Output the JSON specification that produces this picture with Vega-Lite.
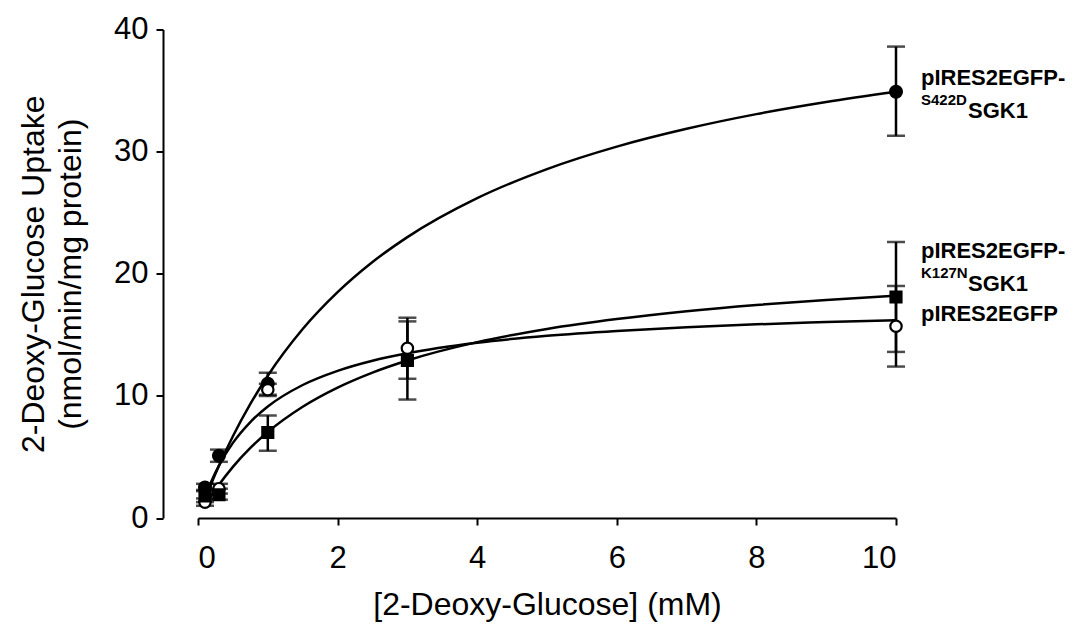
{
  "$schema": "https://vega.github.io/schema/vega-lite/v6.json",
  "width": 698,
  "height": 488.5,
  "autosize": "none",
  "padding": {"left": 198, "top": 29.5, "right": 181, "bottom": 118},
  "background": "white",
  "config": {
    "view": {"stroke": null},
    "font": "Liberation Sans",
    "axis": {
      "labelFont": "Liberation Sans",
      "titleFont": "Liberation Sans",
      "labelFontSize": 31,
      "titleFontSize": 32,
      "titleFontWeight": "normal",
      "labelColor": "black",
      "titleColor": "black",
      "domainColor": "black",
      "tickColor": "black",
      "domainWidth": 2,
      "tickWidth": 2,
      "tickSize": 7,
      "grid": false
    }
  },
  "datasets": {
    "points": [
      {"series": "S422D", "conc": 0.1, "uptake": 2.5, "lo": 2.2, "hi": 2.8},
      {"series": "S422D", "conc": 0.3, "uptake": 5.1, "lo": 4.6, "hi": 5.6},
      {"series": "S422D", "conc": 1, "uptake": 11.0, "lo": 10.1, "hi": 11.9},
      {"series": "S422D", "conc": 10, "uptake": 34.9, "lo": 31.3, "hi": 38.6},
      {"series": "Control", "conc": 0.1, "uptake": 1.3, "lo": 1.0, "hi": 1.6},
      {"series": "Control", "conc": 0.3, "uptake": 2.4, "lo": 2.0, "hi": 2.8},
      {"series": "Control", "conc": 1, "uptake": 10.5, "lo": 10.0, "hi": 11.0},
      {"series": "Control", "conc": 3, "uptake": 13.9, "lo": 11.4, "hi": 16.4},
      {"series": "Control", "conc": 10, "uptake": 15.7, "lo": 12.4, "hi": 19.0},
      {"series": "K127N", "conc": 0.1, "uptake": 1.8, "lo": 1.3, "hi": 2.3},
      {"series": "K127N", "conc": 0.3, "uptake": 1.9, "lo": 1.5, "hi": 2.4},
      {"series": "K127N", "conc": 1, "uptake": 7.0, "lo": 5.5, "hi": 8.4},
      {"series": "K127N", "conc": 3, "uptake": 12.9, "lo": 9.7, "hi": 16.1},
      {"series": "K127N", "conc": 10, "uptake": 18.1, "lo": 13.6, "hi": 22.6}
    ],
    "curves": [
      {"series": "S422D", "conc": 0.1, "fit": 1.52},
      {"series": "S422D", "conc": 0.2, "fit": 2.94},
      {"series": "S422D", "conc": 0.3, "fit": 4.27},
      {"series": "S422D", "conc": 0.5, "fit": 6.69},
      {"series": "S422D", "conc": 0.75, "fit": 9.34},
      {"series": "S422D", "conc": 1, "fit": 11.65},
      {"series": "S422D", "conc": 1.5, "fit": 15.47},
      {"series": "S422D", "conc": 2, "fit": 18.49},
      {"series": "S422D", "conc": 2.5, "fit": 20.96},
      {"series": "S422D", "conc": 3, "fit": 23.0},
      {"series": "S422D", "conc": 4, "fit": 26.19},
      {"series": "S422D", "conc": 5, "fit": 28.57},
      {"series": "S422D", "conc": 6, "fit": 30.41},
      {"series": "S422D", "conc": 7, "fit": 31.87},
      {"series": "S422D", "conc": 8, "fit": 33.07},
      {"series": "S422D", "conc": 9, "fit": 34.06},
      {"series": "S422D", "conc": 10, "fit": 34.9},
      {"series": "Control", "conc": 0.1, "fit": 1.7},
      {"series": "Control", "conc": 0.2, "fit": 3.11},
      {"series": "Control", "conc": 0.3, "fit": 4.29},
      {"series": "Control", "conc": 0.5, "fit": 6.15},
      {"series": "Control", "conc": 0.75, "fit": 7.86},
      {"series": "Control", "conc": 1, "fit": 9.13},
      {"series": "Control", "conc": 1.5, "fit": 10.89},
      {"series": "Control", "conc": 2, "fit": 12.05},
      {"series": "Control", "conc": 2.5, "fit": 12.88},
      {"series": "Control", "conc": 3, "fit": 13.49},
      {"series": "Control", "conc": 4, "fit": 14.35},
      {"series": "Control", "conc": 5, "fit": 14.92},
      {"series": "Control", "conc": 6, "fit": 15.32},
      {"series": "Control", "conc": 7, "fit": 15.62},
      {"series": "Control", "conc": 8, "fit": 15.86},
      {"series": "Control", "conc": 9, "fit": 16.04},
      {"series": "Control", "conc": 10, "fit": 16.2},
      {"series": "K127N", "conc": 0.1, "fit": 0.99},
      {"series": "K127N", "conc": 0.2, "fit": 1.89},
      {"series": "K127N", "conc": 0.3, "fit": 2.72},
      {"series": "K127N", "conc": 0.5, "fit": 4.19},
      {"series": "K127N", "conc": 0.75, "fit": 5.74},
      {"series": "K127N", "conc": 1, "fit": 7.04},
      {"series": "K127N", "conc": 1.5, "fit": 9.11},
      {"series": "K127N", "conc": 2, "fit": 10.68},
      {"series": "K127N", "conc": 2.5, "fit": 11.91},
      {"series": "K127N", "conc": 3, "fit": 12.9},
      {"series": "K127N", "conc": 4, "fit": 14.4},
      {"series": "K127N", "conc": 5, "fit": 15.48},
      {"series": "K127N", "conc": 6, "fit": 16.29},
      {"series": "K127N", "conc": 7, "fit": 16.93},
      {"series": "K127N", "conc": 8, "fit": 17.44},
      {"series": "K127N", "conc": 9, "fit": 17.85},
      {"series": "K127N", "conc": 10, "fit": 18.2}
    ],
    "labels": [
      {"part": "head", "text": "pIRES2EGFP-", "conc": 10, "pos": 35.46},
      {"part": "sup", "text": "S422D", "conc": 10, "pos": 33.82},
      {"part": "tail", "text": "SGK1", "conc": 10, "pos": 32.76},
      {"part": "head", "text": "pIRES2EGFP-", "conc": 10, "pos": 21.29},
      {"part": "sup", "text": "K127N", "conc": 10, "pos": 19.66},
      {"part": "tail", "text": "SGK1", "conc": 10, "pos": 18.59},
      {"part": "head", "text": "pIRES2EGFP", "conc": 10, "pos": 16.13}
    ]
  },
  "encoding": {
    "x": {
      "field": "conc",
      "type": "quantitative",
      "scale": {"domain": [0, 10], "nice": false, "zero": false},
      "axis": {
        "values": [0, 2, 4, 6, 8, 10],
        "title": "[2-Deoxy-Glucose] (mM)",
        "labelPadding": 18,
        "titlePadding": 16
      }
    }
  },
  "layer": [
    {
      "data": {"name": "curves"},
      "mark": {"type": "line", "color": "black", "strokeWidth": 2.5, "interpolate": "monotone"},
      "encoding": {
        "y": {
          "field": "fit",
          "type": "quantitative",
          "scale": {"domain": [0, 40], "nice": false},
          "axis": {
            "values": [0, 10, 20, 30, 40],
            "offset": 35,
            "title": ["2-Deoxy-Glucose Uptake", "(nmol/min/mg protein)"],
            "labelPadding": 8,
            "titlePadding": 26,
            "titleLineHeight": 37
          }
        },
        "detail": {"field": "series"}
      }
    },
    {
      "data": {"name": "points"},
      "mark": {"type": "rule", "color": "black", "strokeWidth": 2.5},
      "encoding": {
        "y": {"field": "lo", "type": "quantitative"},
        "y2": {"field": "hi"}
      }
    },
    {
      "data": {"name": "points"},
      "mark": {"type": "tick", "color": "black", "orient": "horizontal", "size": 18, "thickness": 2.5},
      "encoding": {"y": {"field": "lo", "type": "quantitative"}}
    },
    {
      "data": {"name": "points"},
      "mark": {"type": "tick", "color": "black", "orient": "horizontal", "size": 18, "thickness": 2.5},
      "encoding": {"y": {"field": "hi", "type": "quantitative"}}
    },
    {
      "data": {"name": "points"},
      "mark": {"type": "point", "stroke": "black", "strokeWidth": 2.2, "opacity": 1, "filled": false},
      "encoding": {
        "y": {"field": "uptake", "type": "quantitative"},
        "shape": {
          "field": "series",
          "type": "nominal",
          "scale": {"domain": ["S422D", "Control", "K127N"], "range": ["circle", "circle", "square"]},
          "legend": null
        },
        "fill": {
          "field": "series",
          "type": "nominal",
          "scale": {"domain": ["S422D", "Control", "K127N"], "range": ["black", "white", "black"]},
          "legend": null
        },
        "size": {
          "field": "series",
          "type": "nominal",
          "scale": {"domain": ["S422D", "Control", "K127N"], "range": [140, 120, 140]},
          "legend": null
        }
      }
    },
    {
      "data": {"name": "labels"},
      "transform": [{"filter": "datum.part === 'head'"}],
      "mark": {"type": "text", "font": "Liberation Sans", "fontWeight": "bold", "fontSize": 22, "align": "left", "baseline": "alphabetic", "dx": 25, "color": "black"},
      "encoding": {"y": {"field": "pos", "type": "quantitative"}, "text": {"field": "text"}}
    },
    {
      "data": {"name": "labels"},
      "transform": [{"filter": "datum.part === 'sup'"}],
      "mark": {"type": "text", "font": "Liberation Sans", "fontWeight": "bold", "fontSize": 15, "align": "left", "baseline": "alphabetic", "dx": 25, "color": "black"},
      "encoding": {"y": {"field": "pos", "type": "quantitative"}, "text": {"field": "text"}}
    },
    {
      "data": {"name": "labels"},
      "transform": [{"filter": "datum.part === 'tail'"}],
      "mark": {"type": "text", "font": "Liberation Sans", "fontWeight": "bold", "fontSize": 22, "align": "left", "baseline": "alphabetic", "dx": 72, "color": "black"},
      "encoding": {"y": {"field": "pos", "type": "quantitative"}, "text": {"field": "text"}}
    }
  ]
}
